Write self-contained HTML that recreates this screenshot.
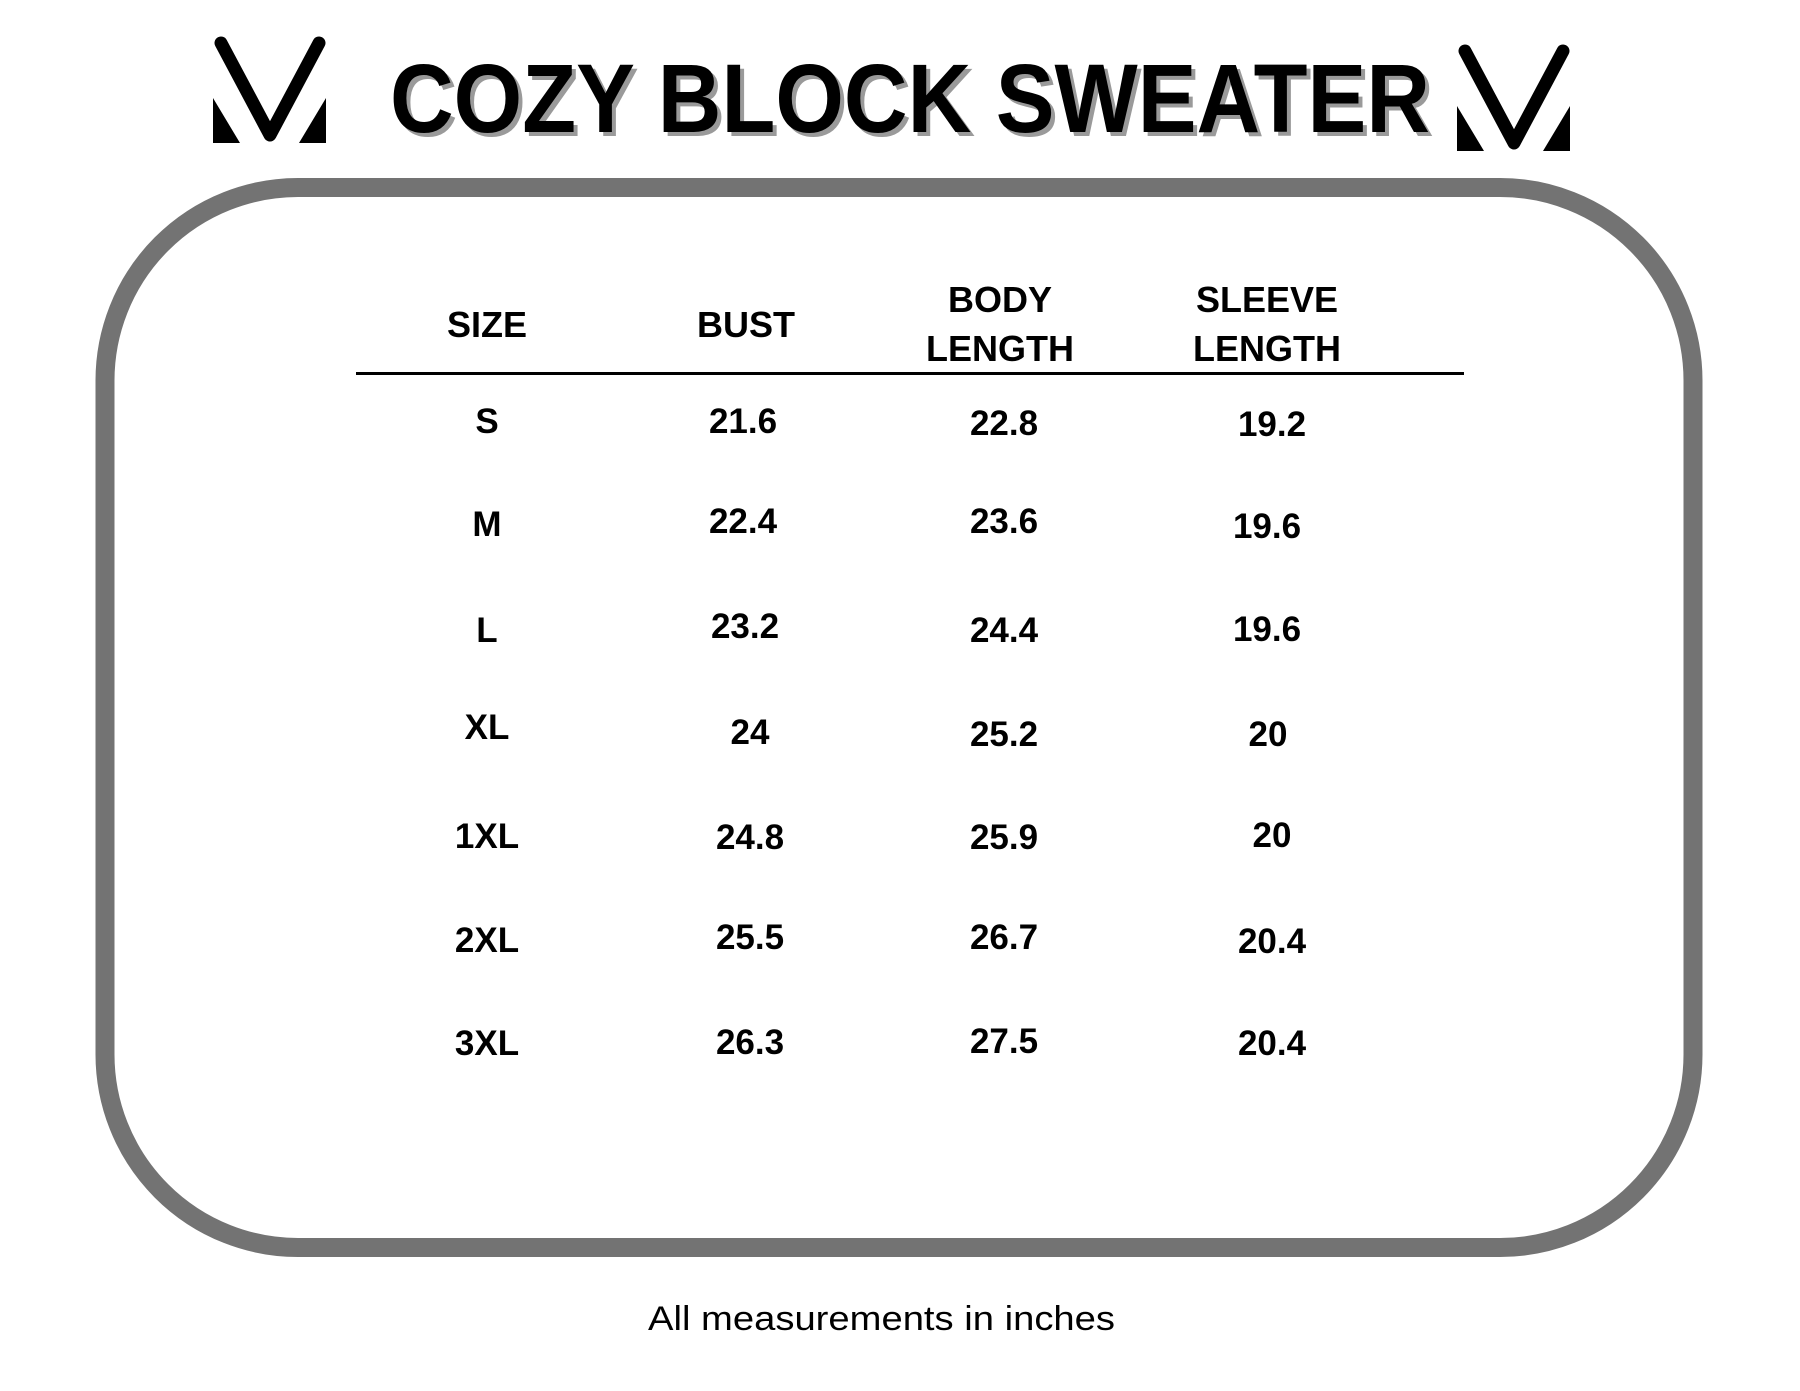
<!DOCTYPE html>
<html><head><meta charset="utf-8"><style>
html,body{margin:0;padding:0;background:#fff;width:1800px;height:1391px;overflow:hidden}
text{font-family:"Liberation Sans",sans-serif}
</style></head><body>
<svg width="1800" height="1391" viewBox="0 0 1800 1391" xmlns="http://www.w3.org/2000/svg">
<defs>
<g id="logo">
<path d="M8,7 L57,99 L106,7" fill="none" stroke="#000" stroke-width="13" stroke-linecap="round" stroke-linejoin="round"/>
<path d="M0,62 L0,107 L27,107 Z M113,62 L113,107 L86,107 Z" fill="#000"/>
</g>
</defs>
<use href="#logo" x="213" y="36"/>
<use href="#logo" x="1457" y="44"/>
<text x="394" y="136" font-size="97" font-weight="bold" fill="#9a9a9a" textLength="1040" lengthAdjust="spacingAndGlyphs">COZY BLOCK SWEATER</text>
<text x="390" y="132" font-size="97" font-weight="bold" fill="#000" textLength="1040" lengthAdjust="spacingAndGlyphs">COZY BLOCK SWEATER</text>
<rect x="105" y="187.5" width="1588" height="1060" rx="193" ry="193" fill="none" stroke="#737373" stroke-width="19"/>
<line x1="356" y1="373.5" x2="1464" y2="373.5" stroke="#000" stroke-width="3"/>
<g font-size="36" font-weight="bold" text-anchor="middle" fill="#000">
<text x="487" y="337">SIZE</text>
<text x="746" y="337">BUST</text>
<text x="1000" y="312">BODY</text>
<text x="1000" y="361">LENGTH</text>
<text x="1267" y="312">SLEEVE</text>
<text x="1267" y="361">LENGTH</text>
</g>
<g font-size="35" font-weight="bold" text-anchor="middle" fill="#000">
<text x="487" y="433">S</text><text x="743" y="433">21.6</text><text x="1004" y="435">22.8</text><text x="1272" y="436">19.2</text>
<text x="487" y="536">M</text><text x="743" y="533">22.4</text><text x="1004" y="533">23.6</text><text x="1267" y="538">19.6</text>
<text x="487" y="642">L</text><text x="745" y="638">23.2</text><text x="1004" y="642">24.4</text><text x="1267" y="641">19.6</text>
<text x="487" y="739">XL</text><text x="750" y="744">24</text><text x="1004" y="746">25.2</text><text x="1268" y="746">20</text>
<text x="487" y="848">1XL</text><text x="750" y="849">24.8</text><text x="1004" y="849">25.9</text><text x="1272" y="847">20</text>
<text x="487" y="952">2XL</text><text x="750" y="949">25.5</text><text x="1004" y="949">26.7</text><text x="1272" y="953">20.4</text>
<text x="487" y="1055">3XL</text><text x="750" y="1054">26.3</text><text x="1004" y="1053">27.5</text><text x="1272" y="1055">20.4</text>
</g>
<text x="648" y="1330" font-size="34" fill="#000" textLength="467" lengthAdjust="spacingAndGlyphs">All measurements in inches</text>
</svg>
</body></html>
